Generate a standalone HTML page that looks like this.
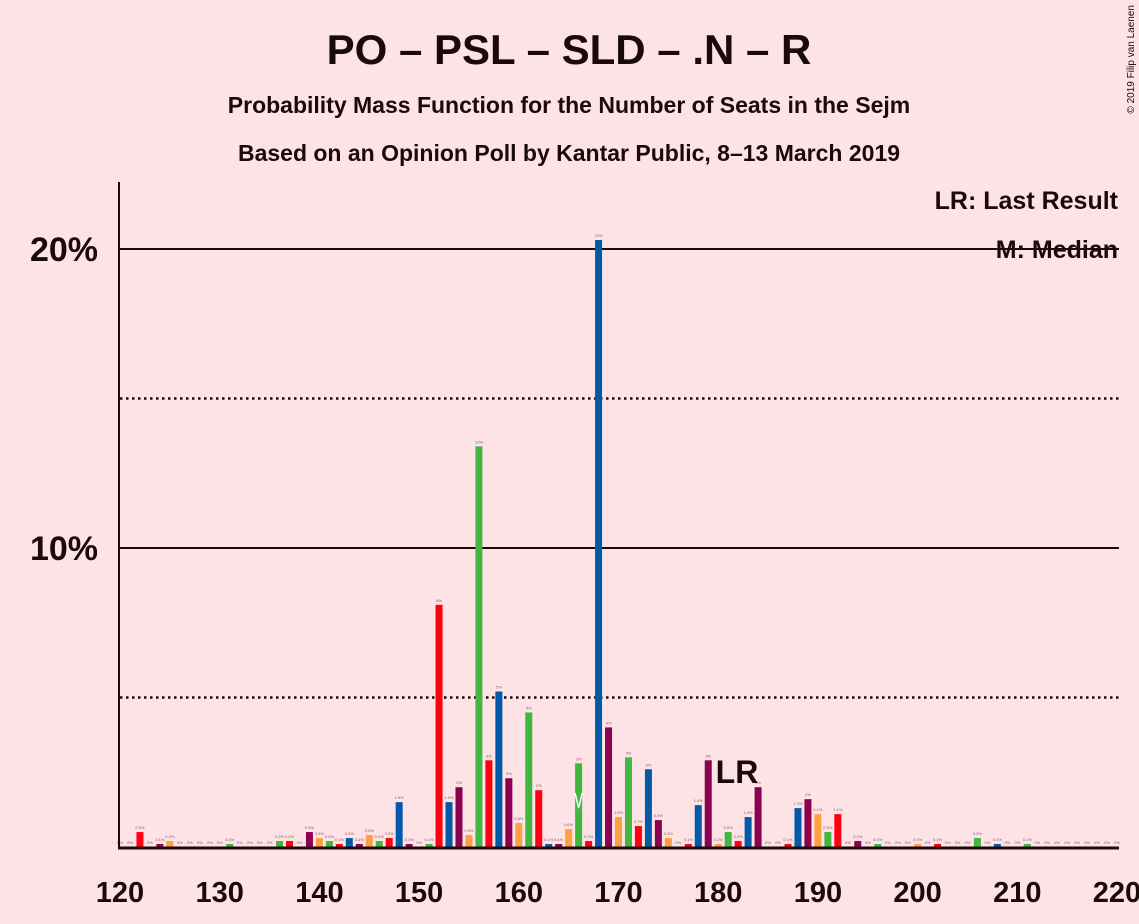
<!DOCTYPE html>
<html><head><meta charset="utf-8"><style>
body{margin:0;background:#fde2e6;}
svg{display:block;font-family:"Liberation Sans",sans-serif;}
</style></head><body>
<svg width="1139" height="924">
<rect width="1139" height="924" fill="#fde2e6"/>
<text x="569" y="64" text-anchor="middle" font-size="42" font-weight="bold" fill="#1a0a0a">PO – PSL – SLD – .N – R</text>
<text x="569" y="113" text-anchor="middle" font-size="23" font-weight="bold" fill="#1a0a0a">Probability Mass Function for the Number of Seats in the Sejm</text>
<text x="569" y="161" text-anchor="middle" font-size="23" font-weight="bold" fill="#1a0a0a">Based on an Opinion Poll by Kantar Public, 8–13 March 2019</text>
<text x="1134" y="5" font-size="10" fill="#1a0a0a" transform="rotate(-90 1134 5)" text-anchor="end">© 2019 Filip van Laenen</text>
<g id="grid"></g>
<g id="bars"></g>
<line x1="119" y1="182" x2="119" y2="849" stroke="#1a0a0a" stroke-width="2"/>
<line x1="118" y1="848" x2="1119" y2="848" stroke="#1a0a0a" stroke-width="3"/>
<g id="xlabels"></g>
<text x="1118" y="209" text-anchor="end" font-size="25" font-weight="bold" fill="#1a0a0a">LR: Last Result</text>
<text x="1118" y="258" text-anchor="end" font-size="25" font-weight="bold" fill="#1a0a0a">M: Median</text>
<text x="737" y="783" text-anchor="middle" font-size="32" font-weight="bold" fill="#1a0a0a">LR</text>
</svg>
<script>
const seats=[];for(let s=120;s<=220;s++)seats.push(s);
const probs=[0,0,0.5,0,0.1,0.2,0,0,0,0,0,0.1,0,0,0,0,0.2,0.2,0,0.5,0.3,0.2,0.1,0.3,0.1,0.4,0.2,0.3,1.5,0.1,0,0.1,8.1,1.5,2.0,0.4,13.4,2.9,5.2,2.3,0.8,4.5,1.9,0.1,0.1,0.6,2.8,0.2,20.3,4.0,1.0,3.0,0.7,2.6,0.9,0.3,0,0.1,1.4,2.9,0.1,0.5,0.2,1.0,2.0,0,0,0.1,1.3,1.6,1.1,0.5,1.1,0,0.2,0,0.1,0,0,0,0.1,0,0.1,0,0,0,0.3,0,0.1,0,0,0.1,0,0,0,0,0,0,0,0,0];
const labels=probs.map(p=>p===0?"0%":(p<1.6)?p.toFixed(1)+"%":Math.round(p)+"%");
const xTicks=[120,130,140,150,160,170,180,190,200,210,220];
const yTicks=[10,20];const yDotted=[5,15];
const median=166;
const colors={2:"#ff0010",3:"#005aa8",4:"#8b0050",0:"#ffa040",1:"#40b840"};
const X=s=>120+(s-120)*9.97, Y=p=>847-p*29.9;
const NS="http://www.w3.org/2000/svg";
function mk(t,a,parent){const e=document.createElementNS(NS,t);for(const k in a)e.setAttribute(k,a[k]);document.getElementById(parent).appendChild(e);return e;}
yDotted.forEach(v=>{const l=mk("line",{x1:120,x2:1119,y1:Y(v),y2:Y(v),stroke:"#1a0a0a","stroke-width":2.5,"stroke-dasharray":"2.5,3.5"},"grid");

});
yTicks.forEach(v=>{const l=mk("line",{x1:120,x2:1119,y1:Y(v),y2:Y(v),stroke:"#1a0a0a","stroke-width":2},"grid");


const t=mk("text",{x:98,y:Y(v)+12,"text-anchor":"end","font-size":34,"font-weight":"bold",fill:"#1a0a0a"},"grid");t.textContent=v+"%";

});
seats.forEach((s,i)=>{const p=probs[i];const h=p*29.9;
const r=mk("rect",{x:X(s)-3.5,y:Y(p),width:7,height:h,fill:colors[s%5]},"bars");


const t=mk("text",{x:X(s),y:Y(p)-3,"text-anchor":"middle","font-size":4,fill:"#806060"},"bars");t.textContent=labels[i];


if(s===median){const m=mk("polyline",{points:`${X(s)-3.5},${Y(1.8)} ${X(s)},${Y(1.3)} ${X(s)+3.5},${Y(1.8)}`,fill:"none",stroke:"#ffffff","stroke-width":1.5},"bars");

}});
xTicks.forEach(v=>{const t=mk("text",{x:X(v),y:902,"text-anchor":"middle","font-size":29,"font-weight":"bold",fill:"#1a0a0a"},"xlabels");t.textContent=v;

});
</script>
</body></html>
